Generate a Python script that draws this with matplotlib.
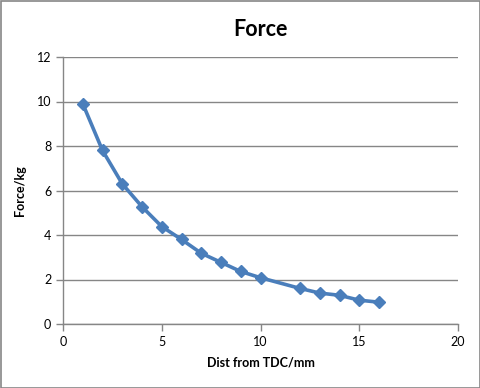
import matplotlib
matplotlib.use("Agg")
import matplotlib.pyplot as plt
from matplotlib.patches import Rectangle

dist_mm = [1, 2, 3, 4, 5, 6, 7, 8, 9, 10, 12, 13, 14, 15, 16]
force_kg = [9.9, 7.8, 6.3, 5.27, 4.38, 3.8, 3.18, 2.77, 2.36, 2.08, 1.6, 1.39, 1.29, 1.07, 0.98]
x_ticks = [0, 5, 10, 15, 20]
y_ticks = [0, 2, 4, 6, 8, 10, 12]

plt.rcParams['font.family'] = ['Lato', 'DejaVu Sans']
W, H = 481, 388
fig = plt.figure(figsize=(W/100, H/100), dpi=100)
fig.patches.append(Rectangle((0.5/W, 0.5/H), 1-1.5/W, 1-1.5/H, transform=fig.transFigure,
                             fill=False, edgecolor='#868686', linewidth=1.2))
ax = fig.add_axes([63/W, 1-324/H, (458-63)/W, (324-57)/H])
ax.plot(dist_mm, force_kg, color='#4A7EBB', linewidth=2.6, marker='D', markersize=6.5,
        markerfacecolor='#4A7EBB', markeredgecolor='#4A7EBB', solid_joinstyle='round')
ax.set_xlim(0, 20)
ax.set_ylim(0, 12)
ax.set_xticks(x_ticks)
ax.set_yticks(y_ticks)
ax.grid(axis='y', color='#868686', linewidth=1)
ax.set_axisbelow(True)
for s in ['top', 'right']:
    ax.spines[s].set_visible(False)
for s in ['left', 'bottom']:
    ax.spines[s].set_color('#868686')
    ax.spines[s].set_linewidth(1)
ax.tick_params(axis='both', colors='#868686', labelcolor='black', labelsize=9, length=5, width=1)
ax.set_title('Force', fontsize=15.5, fontweight='bold', pad=15)
ax.set_xlabel('Dist from TDC/mm', fontsize=9, fontweight='bold', labelpad=6)
ax.set_ylabel('Force/kg', fontsize=9, fontweight='bold', labelpad=8)
fig.savefig('out.png', dpi=100)
